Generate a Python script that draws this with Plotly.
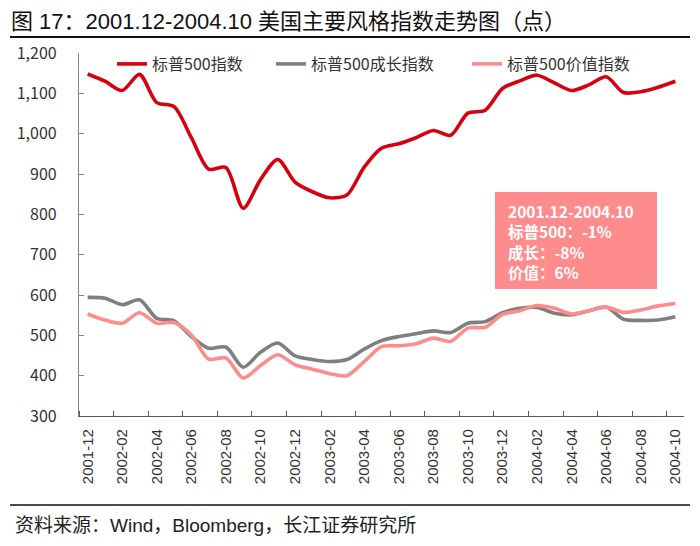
import plotly.graph_objects as go

months = ["2001-12", "2002-01", "2002-02", "2002-03", "2002-04", "2002-05", "2002-06",
          "2002-07", "2002-08", "2002-09", "2002-10", "2002-11", "2002-12", "2003-01",
          "2003-02", "2003-03", "2003-04", "2003-05", "2003-06", "2003-07", "2003-08",
          "2003-09", "2003-10", "2003-11", "2003-12", "2004-01", "2004-02", "2004-03",
          "2004-04", "2004-05", "2004-06", "2004-07", "2004-08", "2004-09", "2004-10"]

sp500 = [1148, 1130, 1107, 1147, 1077, 1067, 990, 912, 916, 815, 886, 936, 880, 856,
         841, 848, 917, 964, 975, 990, 1008, 996, 1051, 1058, 1112, 1131, 1145, 1126,
         1107, 1121, 1141, 1102, 1104, 1115, 1130]

growth = [594, 592, 576, 588, 542, 536, 497, 468, 471, 421, 458, 481, 449, 440,
          435, 440, 466, 487, 497, 504, 511, 507, 530, 534, 556, 567, 569, 555,
          551, 561, 570, 540, 537, 538, 546]

value = [553, 538, 530, 556, 530, 532, 501, 441, 444, 394, 425, 452, 427, 416,
         405, 400, 435, 472, 474, 479, 493, 485, 518, 520, 552, 561, 574, 567,
         553, 561, 570, 557, 563, 573, 579]

series_names = ["标普500指数", "标普500成长指数", "标普500价值指数"]
colors = ["#D7000F", "#7F7F7F", "#FF8C8C"]

box_lines = ["2001.12-2004.10", "标普500：-1%", "成长：-8%", "价值：6%"]

label_idx = list(range(0, len(months), 2))
label_txt = [months[i] for i in label_idx]

W, H = 700, 546
L, R, T, B = 79, 16, 53, 130


def px_x(p):
    return (p - L) / (W - L - R)


def px_y(p):
    return 1 - (p - T) / (H - T - B)


x = list(range(len(months)))
legend_ids = ["legend", "legend2", "legend3"]
legend_x = [112, 271, 467]
fig = go.Figure()
for name, ys, c, lg in zip(series_names, [sp500, growth, value], colors, legend_ids):
    fig.add_trace(go.Scatter(x=x, y=ys, name=name, mode="lines", legend=lg,
                             line=dict(color=c, width=3.6, shape="spline", smoothing=0.8)))

legend_common = dict(orientation="h", y=px_y(47), xanchor="left", yanchor="top",
                     font=dict(size=16, color="#333", family="Noto Sans CJK SC"),
                     bgcolor="rgba(0,0,0,0)", borderwidth=0)

fig.update_layout(
    width=W, height=H,
    margin=dict(l=L, r=R, t=T, b=B),
    paper_bgcolor="white", plot_bgcolor="white",
    font=dict(family="Noto Sans CJK SC, Liberation Sans", color="#222"),
    showlegend=True,
    legend=dict(x=px_x(legend_x[0]), **legend_common),
    legend2=dict(x=px_x(legend_x[1]), **legend_common),
    legend3=dict(x=px_x(legend_x[2]), **legend_common),
    xaxis=dict(range=[-0.5, 34.5], tickmode="array", tickvals=label_idx, ticktext=label_txt,
               tickangle=-90, ticks="", showgrid=False, zeroline=False,
               showline=True, linecolor="#595959", linewidth=1.2,
               ticklabelstandoff=6,
               tickfont=dict(family="Liberation Sans", size=15, color="#333"),
               minor=dict(tick0=-0.5, dtick=2, ticks="inside", ticklen=5,
                          tickcolor="#595959", showgrid=False)),
    yaxis=dict(range=[300, 1200], dtick=100, tick0=300, tickformat=",d",
               showgrid=False, zeroline=False, showline=True, linecolor="#868686",
               linewidth=1.2, ticks="inside", ticklen=5, tickcolor="#868686",
               ticklabelstandoff=18,
               tickfont=dict(family="Noto Sans CJK SC", size=16, color="#333")),
)

# title
fig.add_annotation(xref="paper", yref="paper", x=px_x(9), y=px_y(21),
                   xanchor="left", yanchor="middle", showarrow=False,
                   text="图 17：2001.12-2004.10 美国主要风格指数走势图（点）",
                   font=dict(size=22, color="#111", family="Liberation Sans, Noto Sans CJK SC"))
# lines under title and above source
fig.add_shape(type="line", xref="paper", yref="paper",
              x0=px_x(10), x1=px_x(690), y0=px_y(37), y1=px_y(37),
              line=dict(color="#111", width=2))
fig.add_shape(type="line", xref="paper", yref="paper",
              x0=px_x(10), x1=px_x(690), y0=px_y(505), y1=px_y(505),
              line=dict(color="#111", width=1.5))
# source
fig.add_annotation(xref="paper", yref="paper", x=px_x(13), y=px_y(525),
                   xanchor="left", yanchor="middle", showarrow=False,
                   text="资料来源：Wind，Bloomberg，长江证券研究所",
                   font=dict(size=19, color="#222", family="Liberation Sans, Noto Sans CJK SC"))

# annotation box
fig.add_shape(type="rect", xref="paper", yref="paper",
              x0=px_x(495), x1=px_x(657), y0=px_y(289), y1=px_y(192),
              fillcolor="#FF8C8C", line=dict(width=0), layer="above")
for i, t in enumerate(box_lines):
    fig.add_annotation(xref="paper", yref="paper", x=px_x(507), y=px_y(211 + 20.4 * i),
                       xanchor="left", yanchor="middle", showarrow=False, align="left",
                       borderpad=0,
                       text="<b>" + t + "</b>",
                       font=dict(size=15.5, color="white", family="Noto Sans CJK SC"))

fig.write_html("out.html", post_script="document.body.style.margin='0px';",
               config={"displayModeBar": False})
